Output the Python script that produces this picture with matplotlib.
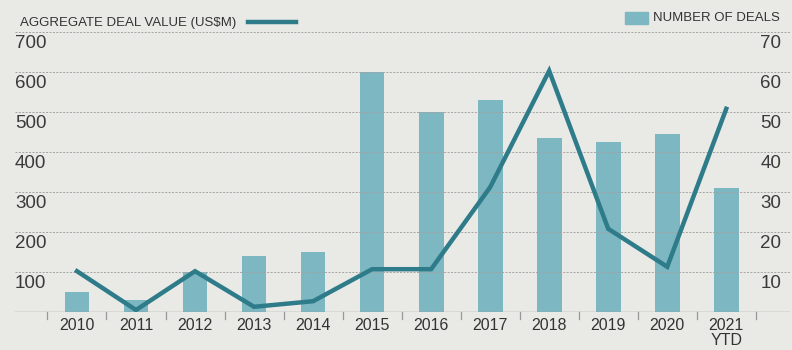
import matplotlib.pyplot as plt
import matplotlib.transforms as mtransforms
from matplotlib.lines import Line2D
from matplotlib.patches import Rectangle

years = ['2010', '2011', '2012', '2013', '2014', '2015', '2016',
         '2017', '2018', '2019', '2020', '2021\nYTD']
deal_value = [102, 5, 102, 13, 27, 107, 107, 312, 603, 208, 113, 508]
num_deals = [5, 3, 10, 14, 15, 60, 50, 53, 43.5, 42.5, 44.5, 31]
left_ticks = [100, 200, 300, 400, 500, 600, 700]
right_ticks = [10, 20, 30, 40, 50, 60, 70]

bar_color = '#7db7c2'
line_color = '#2e7b8a'
bg = '#e9e9e5'
txt = '#333333'

plt.rcParams['font.family'] = ['Liberation Sans', 'DejaVu Sans']

fig = plt.figure(figsize=(7.92, 3.5), dpi=100, facecolor=bg)
ax = fig.add_axes([15 / 792, 38 / 350, 775 / 792, 280 / 350])
ax.set_facecolor(bg)
ax.set_xlim(-1.05, 12.08)
ax.set_ylim(0, 700)
for s in ax.spines.values():
    s.set_visible(False)
ax.set_xticks([])
ax.set_yticks([])

ax2 = ax.twinx()
ax2.set_ylim(0, 70)
for s in ax2.spines.values():
    s.set_visible(False)
ax2.set_yticks([])

# gridlines
for v in left_ticks:
    ax.axhline(v, color='#a3a3a3', lw=0.7, ls=(0, (2, 1.5)), zorder=0)
ax.axhline(0, color='#999999', lw=1.0, zorder=0)

# bars (number of deals, right axis)
x = list(range(len(years)))
ax2.bar(x, num_deals, width=0.42, color=bar_color, zorder=2)

# line (deal value, left axis)
ax.set_zorder(ax2.get_zorder() + 1)
ax.patch.set_visible(False)
ax.plot(x, deal_value, color=line_color, lw=3.2, solid_joinstyle='miter', zorder=3)

# category separators
for i in range(len(years) + 1):
    ax.plot([i - 0.5, i - 0.5], [0, -17], color='#999999', lw=0.9, clip_on=False)

# x labels
for i, lab in enumerate(years):
    ax.text(i, -16, lab, ha='center', va='top', fontsize=11.5, color=txt,
            linespacing=1.0)

# y labels
off = mtransforms.offset_copy(ax.transData, fig=fig, x=0, y=-12, units='dots')
lt = mtransforms.blended_transform_factory(ax.transAxes, off)
for v in left_ticks:
    ax.text(0.0, v, str(v), transform=lt, ha='left', va='center',
            fontsize=13.5, color='#3a3a3a')
off2 = mtransforms.offset_copy(ax2.transData, fig=fig, x=0, y=-12, units='dots')
rt = mtransforms.blended_transform_factory(ax2.transAxes, off2)
for v in right_ticks:
    ax2.text(0.9885, v, str(v), transform=rt, ha='right', va='center',
             fontsize=13.5, color='#3a3a3a')

# legends
fig.text(20 / 792, 1 - 23 / 350, 'AGGREGATE DEAL VALUE (US$M)', ha='left',
         va='center', fontsize=9.5, color=txt)
fig.add_artist(Line2D([248 / 792, 296 / 792], [1 - 22 / 350, 1 - 22 / 350],
                      color=line_color, lw=3.2))
fig.add_artist(Rectangle((625 / 792, 1 - 24 / 350), 23 / 792, 12 / 350,
                         color=bar_color, transform=fig.transFigure))
fig.text(780 / 792, 1 - 18 / 350, 'NUMBER OF DEALS', ha='right',
         va='center', fontsize=9.5, color=txt)

fig.savefig('out.png', dpi=100, facecolor=bg)
